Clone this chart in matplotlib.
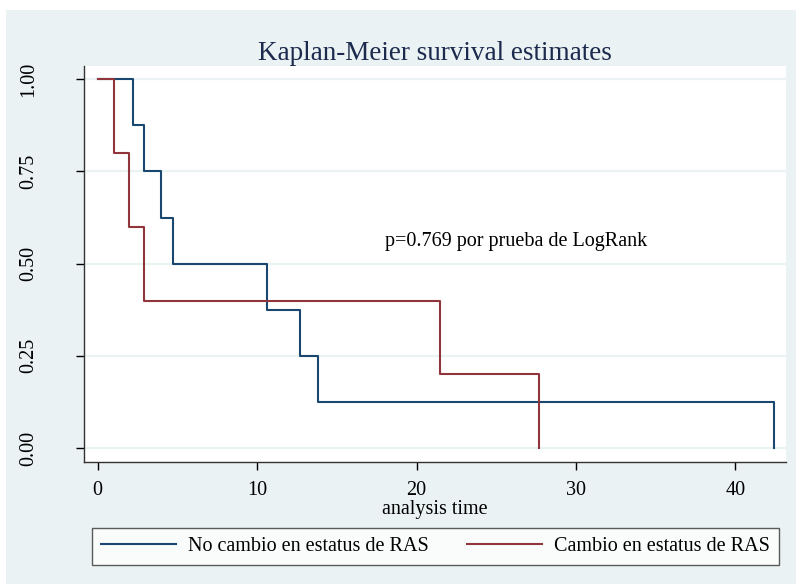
import matplotlib
matplotlib.use('Agg')
import matplotlib.pyplot as plt
from matplotlib.patches import Rectangle

plt.rcParams['font.family'] = ['Liberation Serif', 'DejaVu Serif']

# Kaplan-Meier step data.
t_no_cambio = [0, 2.2, 2.9, 4.0, 4.7, 10.6, 12.7, 13.8, 42.4]
s_no_cambio = [1.0, 0.875, 0.75, 0.625, 0.5, 0.375, 0.25, 0.125, 0.0]
t_cambio = [0, 1.0, 2.0, 2.9, 21.5, 27.7]
s_cambio = [1.0, 0.8, 0.6, 0.4, 0.2, 0.0]

x_ticks = [0, 10, 20, 30, 40]
y_ticks = [0.0, 0.25, 0.5, 0.75, 1.0]
y_labels = ['0.00', '0.25', '0.50', '0.75', '1.00']
labels = ['No cambio en estatus de RAS', 'Cambio en estatus de RAS']

bg = '#eaf2f3'
blue = '#1a476f'
red = '#90353b'

fig = plt.figure(figsize=(7.96, 5.84), dpi=100)
fig.patch.set_facecolor('white')
# Stata-style outer background, leaving a thin white margin top/left.
fig.patches.append(Rectangle((6 / 796, 0), 1, 1 - 10 / 584, transform=fig.transFigure,
                             facecolor=bg, edgecolor='none', zorder=-10))

ax = fig.add_axes([84 / 796, 1 - 462 / 584, (786 - 84) / 796, (462 - 66) / 584])
ax.set_facecolor('white')

for y in y_ticks:
    ax.axhline(y, color=bg, lw=1.6, zorder=0)

ax.step(t_no_cambio, s_no_cambio, where='post', color=blue, lw=1.5, label=labels[0])
ax.step(t_cambio, s_cambio, where='post', color=red, lw=1.5, label=labels[1])

ax.set_xlim(-0.85, 43.17)
ax.set_ylim(-0.038, 1.036)
ax.set_xticks(x_ticks)
ax.set_yticks(y_ticks)
ax.set_yticklabels(y_labels, rotation=90, va='center')
ax.tick_params(axis='both', labelsize=14.5, length=6, width=1, direction='out')
ax.tick_params(axis='y', pad=27)
ax.tick_params(axis='x', pad=8)

for side in ['top', 'right']:
    ax.spines[side].set_visible(False)
for side in ['left', 'bottom']:
    ax.spines[side].set_linewidth(1)
    ax.spines[side].set_color('#333333')

ax.set_xlabel('analysis time', fontsize=14.5, labelpad=0)
ax.set_title('Kaplan-Meier survival estimates', fontsize=19.5, color='#1c2a4d', pad=4)

ax.text(18.0, 0.559, 'p=0.769 por prueba de LogRank', fontsize=14.5, va='center')

handles, lbls = ax.get_legend_handles_labels()
leg = fig.legend(handles, lbls, loc='lower left', ncol=2, mode='expand',
                 bbox_to_anchor=(92 / 796, 1 - 565 / 584, 687 / 796, 38 / 584),
                 fontsize=14.5, frameon=True, fancybox=False, handlelength=3.7,
                 handletextpad=0.6, borderaxespad=0, borderpad=0.45)
leg.get_frame().set_edgecolor('#333333')
leg.get_frame().set_facecolor('white')
leg.get_frame().set_linewidth(1)

fig.savefig('out.png', dpi=100, facecolor=fig.get_facecolor())
